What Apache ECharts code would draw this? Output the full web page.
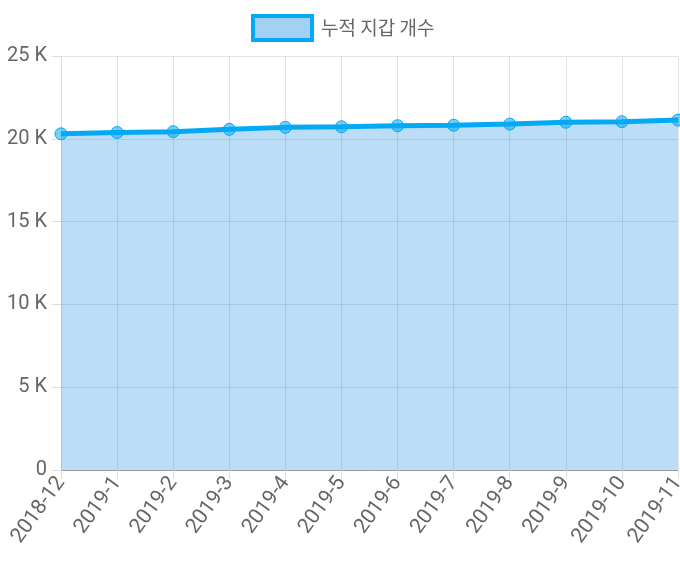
<!DOCTYPE html>
<html><head><meta charset="utf-8">
<script src="https://cdn.jsdelivr.net/npm/echarts@6/dist/echarts.min.js"></script>
<style>html,body{margin:0;padding:0;background:#fff}#c{width:680px;height:562px}</style>
</head><body><div id="c"></div>
<script>
const categories = ['2018-12','2019-1','2019-2','2019-3','2019-4','2019-5','2019-6','2019-7','2019-8','2019-9','2019-10','2019-11'];
const walletCounts = [20300, 20380, 20430, 20570, 20690, 20730, 20790, 20820, 20890, 21000, 21030, 21130];
const seriesName = '누적 지갑 개수';
const yTicks = [0, 5000, 10000, 15000, 20000, 25000];

const chart = echarts.init(document.getElementById('c'));
const tickFont = 'Roboto, sans-serif';
chart.setOption({
  animation: false,
  legend: {
    top: 9, left: 246,
    itemWidth: 59, itemHeight: 24, itemGap: 10,
    icon: 'rect',
    data: [{name: seriesName, itemStyle: {color: 'rgba(24,141,226,0.4)', borderColor: '#03a9f4', borderWidth: 4}}],
    textStyle: {fontSize: 19, color: '#666', fontFamily: '"Noto Sans CJK KR", sans-serif', padding: [0, 0, 0, 4]}
  },
  grid: {left: 61, right: 2, top: 56, bottom: 92, outerBoundsMode: 'none', containLabel: false},
  xAxis: {
    type: 'category', data: categories, boundaryGap: false,
    axisLine: {lineStyle: {color: '#999'}},
    axisTick: {show: true, length: 9, alignWithLabel: true, lineStyle: {color: '#ddd'}},
    axisLabel: {rotate: 54, fontSize: 21, color: '#666', fontFamily: tickFont, margin: 9, interval: 0, hideOverlap: false},
    splitLine: {show: true, lineStyle: {color: '#e2e2e2'}}
  },
  yAxis: {
    type: 'value', min: yTicks[0], max: yTicks[yTicks.length-1], interval: 5000,
    axisLine: {show: true, lineStyle: {color: '#ddd'}},
    axisTick: {show: true, length: 9, lineStyle: {color: '#ddd'}},
    axisLabel: {fontSize: 20, color: '#666', fontFamily: tickFont, margin: 14,
      formatter: v => v === 0 ? '0' : (v/1000) + ' K'},
    splitLine: {show: true, lineStyle: {color: '#e2e2e2'}}
  },
  series: [{
    name: seriesName, type: 'line', data: walletCounts,
    symbol: 'circle', symbolSize: 12,
    lineStyle: {color: '#03a9f4', width: 5},
    itemStyle: {color: 'rgba(3,169,244,0.55)', borderColor: '#03a9f4', borderWidth: 1},
    areaStyle: {color: 'rgba(24,141,226,0.42)'}
  }]
});
</script></body></html>
